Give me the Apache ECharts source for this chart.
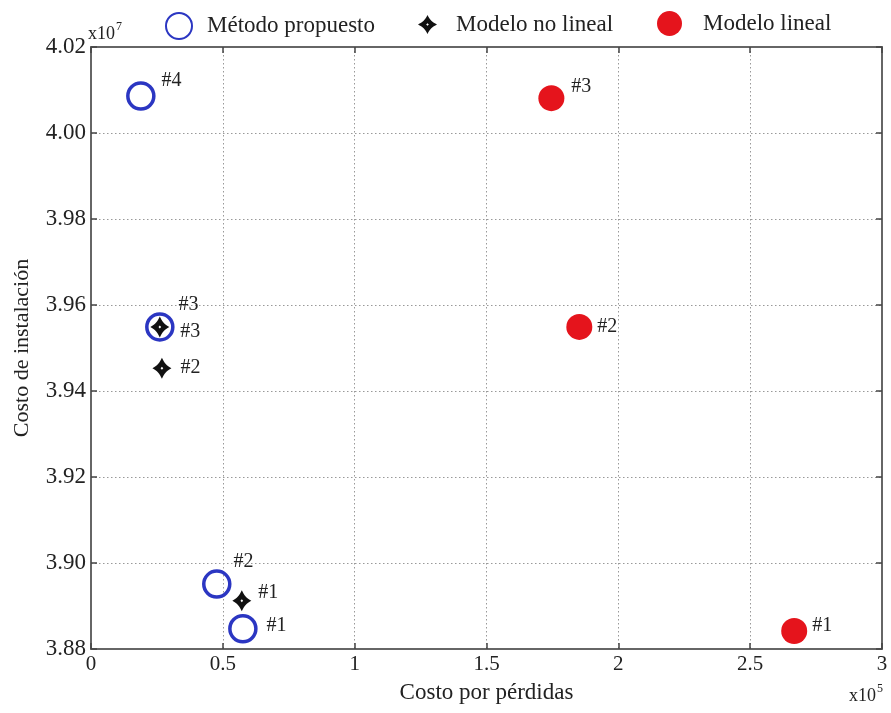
<!DOCTYPE html>
<html>
<head>
<meta charset="utf-8">
<script src="https://cdn.jsdelivr.net/npm/echarts@6/dist/echarts.min.js"></script>
<style>
  html, body { margin: 0; padding: 0; background: #fff; }
  #chart { width: 891px; height: 713px; }
</style>
</head>
<body>
<div id="chart"></div>
<script>
// Cost per losses (x10^5) vs. installation cost (x10^7)
const seriesNames = ['Método propuesto', 'Modelo no lineal', 'Modelo lineal'];
const pointLabels = {
  propuesto: ['#4', '#3', '#2', '#1'],
  noLineal: ['#3', '#2', '#1'],
  lineal: ['#3', '#2', '#1']
};
const propuestoX = [0.189, 0.261, 0.477, 0.576];
const propuestoY = [4.0086, 3.9549, 3.8951, 3.8847];
const noLinealX = [0.261, 0.269, 0.572];
const noLinealY = [3.9549, 3.9453, 3.8912];
const linealX = [1.746, 1.852, 2.667];
const linealY = [4.0081, 3.9549, 3.8842];
const xTicks = { min: 0, max: 3, step: 0.5 };
const yTicks = { min: 3.88, max: 4.02, step: 0.02 };

const FONT = '"Liberation Serif", "Times New Roman", serif';
// four-pointed star with a small open centre
const STAR = 'path://M0,-10 C2.5,-5 5,-2.5 10,0 C5,2.5 2.5,5 0,10 C-2.5,5 -5,2.5 -10,0 C-5,-2.5 -2.5,-5 0,-10 Z ' +
             'M0,-1.4 L-1.4,0 L0,1.4 L1.4,0 Z';

// label nudges (dx, dy) for each point, in drawing order
const labelNudge = {
  propuesto: [[4, -15], [2, -22], [0, -22], [7, -3]],
  noLineal: [[9, 5], [7, 0], [5, -8]],
  lineal: [[5, -11], [3, 0], [3, -5]]
};

function buildData(xs, ys, names, nudges) {
  return xs.map((x, i) => ({
    value: [x, ys[i]],
    label: {
      show: true,
      formatter: names[i],
      position: 'right',
      distance: 2,
      offset: nudges[i],
      fontFamily: FONT,
      fontSize: 20,
      color: '#222'
    }
  }));
}

const chart = echarts.init(document.getElementById('chart'), null, { renderer: 'canvas' });

const axisLineStyle = { lineStyle: { color: '#666', width: 2 } };
const tickStyle = { show: true, inside: true, length: 6, lineStyle: { color: '#444', width: 1.5 } };
const gridDots = { show: true, lineStyle: { color: '#999', type: [1.5, 2.5], width: 1 } };

chart.setOption({
  animation: false,
  backgroundColor: '#fff',
  grid: { left: 91, right: 9, top: 47, bottom: 64, containLabel: false, outerBoundsMode: 'none' },
  legend: [
    {
      data: [seriesNames[0]], left: 160, top: 7, itemWidth: 26, itemHeight: 26,
      textStyle: { fontFamily: FONT, fontSize: 23, color: '#222', padding: [0, 0, 10, 10] }
    },
    {
      data: [seriesNames[1]], left: 413, top: 8, itemWidth: 19, itemHeight: 21,
      textStyle: { fontFamily: FONT, fontSize: 23, color: '#222', padding: [0, 0, 8, 14] }
    },
    {
      data: [seriesNames[2]], left: 652, top: 6, itemWidth: 25, itemHeight: 25,
      textStyle: { fontFamily: FONT, fontSize: 23, color: '#222', padding: [0, 0, 10, 16] }
    }
  ],
  xAxis: [
    {
      type: 'value', min: xTicks.min, max: xTicks.max, interval: xTicks.step,
      name: 'Costo por pérdidas', nameLocation: 'middle', nameGap: 32,
      nameTextStyle: { fontFamily: FONT, fontSize: 23, color: '#222' },
      axisLine: { show: true, onZero: false, ...axisLineStyle },
      axisTick: tickStyle,
      axisLabel: { fontFamily: FONT, fontSize: 21, color: '#222', margin: 5 },
      splitLine: gridDots
    },
    {
      type: 'value', position: 'top', min: xTicks.min, max: xTicks.max, interval: xTicks.step,
      axisLine: { show: true, onZero: false, ...axisLineStyle },
      axisTick: tickStyle, axisLabel: { show: false }, splitLine: { show: false }
    }
  ],
  yAxis: [
    {
      type: 'value', min: yTicks.min, max: yTicks.max, interval: yTicks.step,
      name: 'Costo de instalación', nameLocation: 'middle', nameGap: 58,
      nameTextStyle: { fontFamily: FONT, fontSize: 22, color: '#222' },
      axisLine: { show: true, onZero: false, ...axisLineStyle },
      axisTick: tickStyle,
      axisLabel: { fontFamily: FONT, fontSize: 23, color: '#222', margin: 5,
        formatter: v => v.toFixed(2) },
      splitLine: gridDots
    },
    {
      type: 'value', position: 'right', min: yTicks.min, max: yTicks.max, interval: yTicks.step,
      axisLine: { show: true, onZero: false, ...axisLineStyle },
      axisTick: tickStyle, axisLabel: { show: false }, splitLine: { show: false }
    }
  ],
  graphic: [
    {
      type: 'text', left: 88, top: 21,
      style: {
        text: '{b|x10}{s|7}',
        rich: {
          b: { fontFamily: FONT, fontSize: 18, fill: '#222', verticalAlign: 'bottom', lineHeight: 22 },
          s: { fontFamily: FONT, fontSize: 12, fill: '#222', verticalAlign: 'top', lineHeight: 22, padding: [0, 0, 12, 1] }
        }
      }
    },
    {
      type: 'text', left: 849, top: 683,
      style: {
        text: '{b|x10}{s|5}',
        rich: {
          b: { fontFamily: FONT, fontSize: 18, fill: '#222', verticalAlign: 'bottom', lineHeight: 22 },
          s: { fontFamily: FONT, fontSize: 12, fill: '#222', verticalAlign: 'top', lineHeight: 22, padding: [0, 0, 12, 1] }
        }
      }
    }
  ],
  series: [
    {
      name: seriesNames[0], type: 'scatter', symbol: 'circle', symbolSize: 26,
      itemStyle: { color: 'rgba(255,255,255,0)', borderColor: '#2b36c2', borderWidth: 3.5, opacity: 1 },
      data: buildData(propuestoX, propuestoY, pointLabels.propuesto, labelNudge.propuesto),
      z: 2
    },
    {
      name: seriesNames[1], type: 'scatter', symbol: STAR, symbolSize: [19, 21],
      itemStyle: { color: '#111', opacity: 1 },
      data: buildData(noLinealX, noLinealY, pointLabels.noLineal, labelNudge.noLineal),
      z: 3
    },
    {
      name: seriesNames[2], type: 'scatter', symbol: 'circle', symbolSize: 26,
      itemStyle: { color: '#e5141c', opacity: 1 },
      data: buildData(linealX, linealY, pointLabels.lineal, labelNudge.lineal),
      z: 2
    }
  ]
});
</script>
</body>
</html>
